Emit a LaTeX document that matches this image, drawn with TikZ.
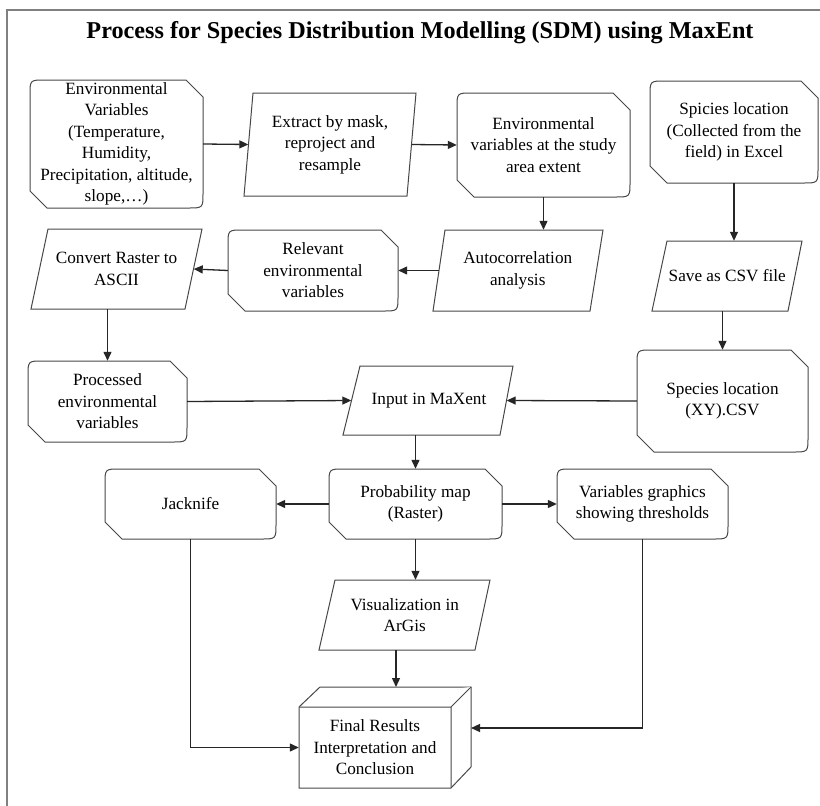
\documentclass[tikz,border=0pt]{standalone}
\usepackage{fontspec}
\setmainfont{Liberation Serif}
\usetikzlibrary{arrows.meta,calc}
\tikzset{
 boxline/.style={draw=black!72, line width=1pt, fill=white},
 txt/.style={align=center, font=\fontsize{17.2}{21.5}\selectfont, inner sep=0pt},
 arr/.style={-{Triangle[length=9pt,width=8pt]}, line width=1.3pt, draw=black!85},
 frameline/.style={draw=black!50, line width=1.5pt},
}
\newcommand\srnode[6]{%
 \pgfmathsetmacro\wA{#4-#2}\pgfmathsetmacro\hA{#5-#3}%
 \draw[boxline] ({#2},{#3+15}) .. controls (#2,#3) .. ({#2+15},#3) -- ({#4-17},#3) -- (#4,{#3+17}) -- (#4,{#5-15}) .. controls (#4,#5) .. ({#4-15},#5) -- ({#2+17},#5) -- (#2,{#5-17}) -- cycle;
 \node[txt, minimum width=\wA pt, minimum height=\hA pt] (#1) at ({(#2+#4)/2},{(#3+#5)/2}) {#6};
}
\newcommand\pgnode[8]{%
 \draw[boxline] (#2,#4) -- (#3,#4) -- (#6,#7) -- (#5,#7) -- cycle;
 \pgfmathsetmacro\wA{(#3+#6-#2-#5)/2}\pgfmathsetmacro\hA{#7-#4}%
 \node[txt, minimum width=\wA pt, minimum height=\hA pt] (#1) at ({(#2+#3+#5+#6)/4},{(#4+#7)/2}) {#8};
}
\begin{document}
\begin{tikzpicture}[x=1pt,y=-1pt]
\useasboundingbox (0,0) rectangle (820,806);
\fill[white] (0,0) rectangle (820,806);
\draw[frameline] (7,806) -- (7,10) -- (820,10);
\node[inner sep=0pt] (title) at (420,33) {\fontsize{24.2}{28}\selectfont\bfseries Process for Species Distribution Modelling (SDM) using MaxEnt};

\srnode{env}{30}{80}{203}{208}{Environmental\\Variables\\(Temperature,\\Humidity,\\Precipitation, altitude,\\slope,…)}
\pgnode{extract}{253}{416}{93}{244}{407}{196}{Extract by mask,\\reproject and\\resample}
\srnode{study}{457}{93}{630}{197}{Environmental\\variables at the study\\area extent}
\srnode{loc}{650}{81}{818}{183}{Spicies location\\(Collected from the\\field) in Excel}
\pgnode{auto}{445}{603}{230}{433}{590}{311}{Autocorrelation\\analysis}
\pgnode{save}{667}{802}{241}{652}{788}{311}{Save as CSV file}
\srnode{rel}{228}{230}{398}{311}{Relevant\\environmental\\variables}
\pgnode{conv}{48}{202}{229}{31}{185}{309}{Convert Raster to\\ASCII}
\srnode{proc}{28}{361}{187}{442}{Processed\\environmental\\variables}
\pgnode{input}{360}{513}{366}{343}{500}{435}{Input in MaXent}
\srnode{xy}{637}{350}{808}{452}{Species location\\(XY).CSV}
\srnode{jack}{105}{469}{276}{539}{Jacknife}
\srnode{prob}{329}{469}{502}{539}{Probability map\\(Raster)}
\srnode{var}{557}{469}{728}{539}{Variables graphics\\showing thresholds}
\pgnode{vis}{335}{490}{580}{319}{475}{650}{Visualization in\\ArGis}

% final 3D box
\draw[boxline] (299,707) -- (320,687) -- (471,687) -- (471,767) -- (451,788) -- (299,788) -- cycle;
\draw[boxline] (299,707) -- (451,707) -- (471,687) (451,707) -- (451,788);
\node[txt, minimum width=152pt, minimum height=81pt] (final) at (375,747.5) {Final Results\\Interpretation and\\Conclusion};
\coordinate (fintop) at (396,687);
\coordinate (finright) at (471,728);

\draw[arr] (env.east) -- (extract.west);
\draw[arr] (extract.east) -- (study.west);
\draw[arr] (study.south) -- (study.south |- auto.north);
\draw[arr] (loc.south) -- (loc.south |- save.north);
\draw[arr] (auto.west) -- (rel.east);
\draw[arr] (rel.west) -- (conv.east);
\draw[arr] (conv.south -| proc.north) -- (proc.north);
\draw[arr] (save.south -| xy.north) -- (xy.north);
\draw[arr] (proc.east) -- (input.west);
\draw[arr] (xy.west) -- (input.east);
\draw[arr] (input.south -| prob.north) -- (prob.north);
\draw[arr] (prob.west) -- (jack.east);
\draw[arr] (prob.east) -- (var.west);
\draw[arr] (prob.south) -- (prob.south |- vis.north);
\draw[arr] (vis.south -| fintop) -- (fintop);
\draw[arr] (jack.south) |- (final.west);
\draw[arr] (var.south) |- (finright);
\end{tikzpicture}
\end{document}
